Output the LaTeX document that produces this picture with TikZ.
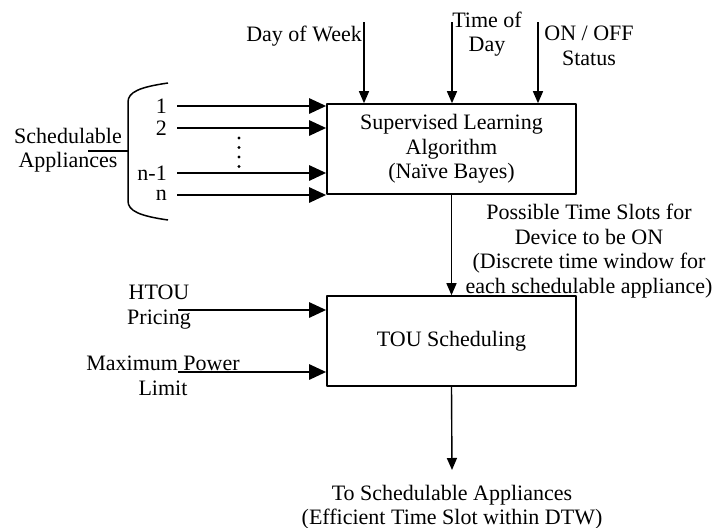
\documentclass[tikz,border=0pt]{standalone}
\usepackage{fontspec}
\setmainfont{Liberation Serif}
\usetikzlibrary{arrows.meta,positioning}
\begin{document}
\begin{tikzpicture}[x=1pt,y=-1pt,line join=round,font=\fontsize{22}{24.5}\selectfont,
    blk/.style={draw,line width=1.6pt,minimum width=249pt,minimum height=90pt,align=center,inner sep=0pt},
    bigarrow/.style={line width=2.6pt,-{Triangle[length=17pt,width=15pt]}},
    smallarrow/.style={line width=1.4pt,-{Triangle[length=12pt,width=10pt]}},
    lbl/.style={align=center,inner sep=0pt}]
    \useasboundingbox (0,0) rectangle (713,528);
    % blocks
    \node[blk] (sla) at (451.5,149) {Supervised Learning\\Algorithm\\(Naïve Bayes)};
    \node[blk] (tou) at (451.5,341) {TOU Scheduling};
    % top inputs
    \coordinate (dow) at (364,22);
    \coordinate (tod) at (452,22);
    \coordinate (st) at (538,22);
    \foreach \c in {dow,tod,st}
    \draw[smallarrow] (\c) -- (\c |- sla.north);
    \node[lbl,anchor=east] (dowl) at (362,36) {Day of Week};
    \node[lbl] (todl) at (487,34) {Time of\\Day};
    \node[lbl] (stl) at (589,46) {ON / OFF\\Status};
    % appliances
    \foreach \y/\t [count=\i] in {106/1,128/2,173/n-1,195/n}{
        \node[lbl,anchor=east] (n\i) at (167,\y) {\t};
        \coordinate (a\i) at (177,\y);
        \draw[bigarrow] (a\i) -- (a\i -| sla.west);
    }
    \foreach \y in {138,147.5,157,166.5}
    \fill (239,\y) circle (1.6pt);
    \draw[line width=1.5pt] (168,83) .. controls (140,87) and (128,92) .. (128,102)
    -- (128,201) .. controls (128,211) and (140,216) .. (168,220);
    \draw[line width=1.5pt] (88,151) -- (128,151);
    \node[lbl] (sa) at (68,150) {Schedulable\\Appliances};
    % middle
    \draw[smallarrow] (sla.south) -- (tou.north);
    \node[lbl] (pts) at (589,251) {Possible Time Slots for\\Device to be ON\\(Discrete time window for\\each schedulable appliance)};
    % TOU inputs
    \coordinate (ht) at (178,310);
    \coordinate (mp) at (178,372);
    \draw[bigarrow] (ht) -- (ht -| tou.west);
    \draw[bigarrow] (mp) -- (mp -| tou.west);
    \node[lbl] (htl) at (159,307) {HTOU\\Pricing};
    \node[lbl] (mpl) at (163,376) {Maximum Power\\Limit};
    % output
    \coordinate (out) at (452,470);
    \draw[smallarrow] (tou.south) -- (out);
    \node[lbl] (outl) at (452,507) {To Schedulable Appliances\\(Efficient Time Slot within DTW)};
\end{tikzpicture}
\end{document}
